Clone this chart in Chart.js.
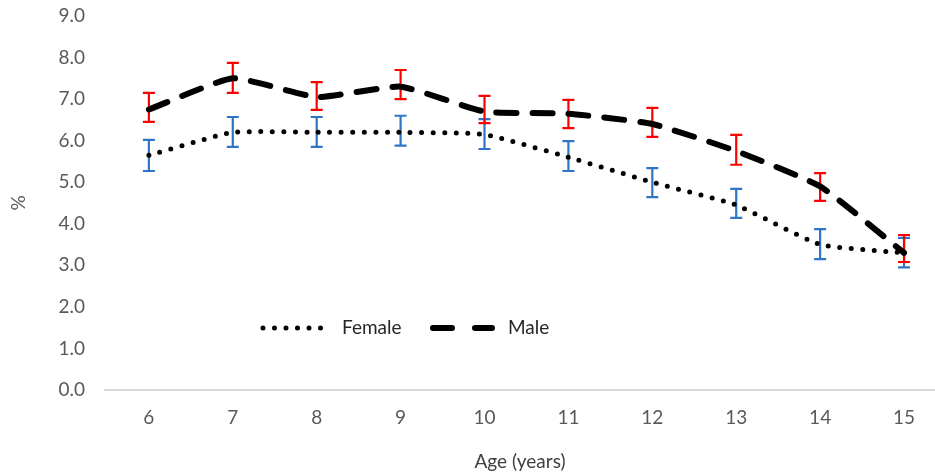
<!DOCTYPE html>
<html>
<head>
<meta charset="utf-8">
<script src="https://cdn.jsdelivr.net/npm/chart.js@4/dist/chart.umd.min.js"></script>
<style>
  html, body { margin: 0; padding: 0; background: #fff; }
  canvas { display: block; }
</style>
</head>
<body>
<canvas id="chart" width="935" height="476"></canvas>
<script>
// Prevalence by age (%)
const ages = [6, 7, 8, 9, 10, 11, 12, 13, 14, 15];

const female = [5.65, 6.2, 6.2, 6.2, 6.15, 5.6, 5.0, 4.45, 3.5, 3.3];
const femaleLow = [5.27, 5.85, 5.85, 5.88, 5.8, 5.27, 4.64, 4.14, 3.15, 2.95];
const femaleHigh = [6.02, 6.57, 6.57, 6.6, 6.52, 5.99, 5.34, 4.84, 3.87, 3.66];

const male = [6.75, 7.5, 7.05, 7.3, 6.7, 6.65, 6.4, 5.75, 4.9, 3.3];
const maleLow = [6.45, 7.15, 6.74, 7.0, 6.42, 6.3, 6.09, 5.42, 4.55, 3.08];
const maleHigh = [7.15, 7.87, 7.41, 7.7, 7.08, 6.98, 6.79, 6.14, 5.22, 3.73];

const yTicks = [0, 1, 2, 3, 4, 5, 6, 7, 8, 9];

const FONT = 'Lato, "Open Sans", sans-serif';

function toPoints(ys) {
    return ages.map((a, i) => ({ x: a, y: ys[i] }));
}

// Error bars drawn under the lines
const errorBars = {
    id: 'errorBars',
    beforeDatasetsDraw(chart) {
        const { ctx, scales: { x, y } } = chart;
        ctx.save();
        chart.data.datasets.forEach(ds => {
            ctx.strokeStyle = ds.errColor;
            ctx.lineWidth = 2.2;
            ctx.setLineDash([]);
            ages.forEach((a, i) => {
                const px = x.getPixelForValue(a);
                const top = y.getPixelForValue(ds.errHigh[i]);
                const bot = y.getPixelForValue(ds.errLow[i]);
                ctx.beginPath();
                ctx.moveTo(px, top);
                ctx.lineTo(px, bot);
                ctx.moveTo(px - 6, top);
                ctx.lineTo(px + 6, top);
                ctx.moveTo(px - 6, bot);
                ctx.lineTo(px + 6, bot);
                ctx.stroke();
            });
        });
        ctx.restore();
    }
};

// Legend sits inside the plot, lower left
const inlineLegend = {
    id: 'inlineLegend',
    afterDraw(chart) {
        const { ctx } = chart;
        const ly = 328;
        ctx.save();
        ctx.strokeStyle = '#000';
        ctx.lineCap = 'round';

        ctx.lineWidth = 5;
        ctx.setLineDash([0, 11.5]);
        ctx.beginPath();
        ctx.moveTo(263, ly);
        ctx.lineTo(322, ly);
        ctx.stroke();

        ctx.lineWidth = 6;
        ctx.setLineDash([19, 23]);
        ctx.beginPath();
        ctx.moveTo(433, ly);
        ctx.lineTo(492, ly);
        ctx.stroke();

        ctx.setLineDash([]);
        ctx.fillStyle = '#262626';
        ctx.font = '19px ' + FONT;
        ctx.textBaseline = 'middle';
        ctx.fillText('Female', 342, ly);
        ctx.fillText('Male', 508, ly);
        ctx.restore();
    }
};

new Chart(document.getElementById('chart'), {
    type: 'line',
    data: {
        datasets: [
            {
                label: 'Female',
                data: toPoints(female),
                errLow: femaleLow,
                errHigh: femaleHigh,
                errColor: '#2e75c6',
                borderColor: '#000',
                borderWidth: 5,
                borderDash: [0, 11.5],
                borderCapStyle: 'round',
                pointRadius: 0,
                tension: 0.15
            },
            {
                label: 'Male',
                data: toPoints(male),
                errLow: maleLow,
                errHigh: maleHigh,
                errColor: '#ff0000',
                borderColor: '#000',
                borderWidth: 6,
                borderDash: [20, 16],
                borderCapStyle: 'round',
                pointRadius: 0,
                tension: 0.15
            }
        ]
    },
    options: {
        responsive: false,
        animation: false,
        layout: {
            padding: { top: 16, right: 0, left: 0, bottom: 0 }
        },
        plugins: {
            legend: { display: false },
            tooltip: { enabled: false }
        },
        scales: {
            x: {
                type: 'linear',
                min: 5.477,
                max: 15.369,
                afterBuildTicks: scale => {
                    scale.ticks = ages.map(v => ({ value: v }));
                },
                afterFit: scale => {
                    scale.height = 86;
                    scale.paddingLeft = 0;
                    scale.paddingRight = 0;
                },
                grid: { display: false, drawTicks: false },
                border: { display: true, color: '#d9d9d9', width: 2 },
                ticks: {
                    color: '#595959',
                    padding: 16,
                    maxRotation: 0,
                    font: { family: FONT, size: 19 }
                },
                title: {
                    display: true,
                    text: 'Age (years)',
                    color: '#404040',
                    padding: { top: 0, bottom: 3 },
                    font: { family: FONT, size: 19 }
                }
            },
            y: {
                min: 0,
                max: 9,
                afterBuildTicks: scale => {
                    scale.ticks = yTicks.map(v => ({ value: v }));
                },
                afterFit: scale => {
                    scale.width = 105;
                    scale.paddingTop = 0;
                    scale.paddingBottom = 0;
                },
                grid: { display: false, drawTicks: false },
                border: { display: false },
                ticks: {
                    color: '#595959',
                    padding: 20,
                    font: { family: FONT, size: 19 },
                    callback: v => v.toFixed(1)
                },
                title: {
                    display: true,
                    text: '%',
                    color: '#595959',
                    padding: { top: 7, bottom: 0 },
                    font: { family: FONT, size: 19 }
                }
            }
        }
    },
    plugins: [errorBars, inlineLegend]
});
</script>
</body>
</html>
